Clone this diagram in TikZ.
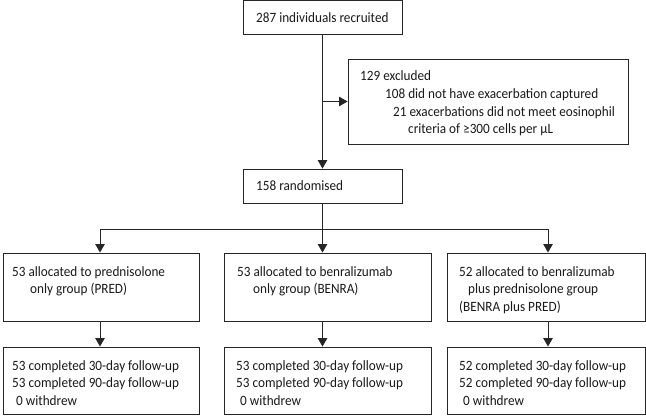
\documentclass[tikz,border=0pt]{standalone}
\usepackage{fontspec}
\setmainfont{Carlito}[FakeStretch=0.93]
\usetikzlibrary{arrows.meta}
\begin{document}
\begin{tikzpicture}[x=1pt,y=-1pt,
  box/.style={draw=black!85, line width=0.9pt, inner sep=0pt, rectangle},
  txt/.style={anchor=north west, inner sep=0pt, align=left, font=\fontsize{14.2}{17.7}\selectfont, text=black!90},
  arr/.style={draw=black!85, line width=0.9pt, -{Triangle[length=8.5pt,width=9.5pt]}},
  ln/.style={draw=black!85, line width=0.9pt}]
\useasboundingbox (0,0) rectangle (646,416);
% boxes
\node[box, minimum width=159pt, minimum height=33.5pt] (rec) at (322.5,17.3) {};
\node[box, minimum width=280pt, minimum height=85pt] (excl) at (488,101.5) {};
\node[box, minimum width=159pt, minimum height=34pt] (rand) at (322.5,186) {};
\node[box, minimum width=196pt, minimum height=68pt] (Aa) at (101,287) {};
\node[box, minimum width=207pt, minimum height=68pt] (Ba) at (327.5,287) {};
\node[box, minimum width=198pt, minimum height=68pt] (Ca) at (546,287) {};
\node[box, minimum width=196pt, minimum height=67pt] (Af) at (101,380.5) {};
\node[box, minimum width=207pt, minimum height=67pt] (Bf) at (327.5,380.5) {};
\node[box, minimum width=198pt, minimum height=67pt] (Cf) at (546,380.5) {};
% texts
\node[txt] (recT) at (256,10.3) {\strut 287 individuals recruited};
\node[txt] (exclT) at (360,68.1) {\strut 129 excluded\\
  \hspace*{25pt}108 did not have exacerbation captured\\
  \hspace*{33pt}21 exacerbations did not meet eosinophil\\
  \hspace*{48pt}criteria of ≥300 cells per μL};
\node[txt] (randT) at (256,178.3) {\strut 158 randomised};
\node[txt] (AaT) at (12,263.6) {\strut 53 allocated to prednisolone\\\hspace*{18pt}only group (PRED)};
\node[txt] (BaT) at (237,263.6) {\strut 53 allocated to benralizumab\\\hspace*{16pt}only group (BENRA)};
\node[txt] (CaT) at (459,263.6) {\strut 52 allocated to benralizumab\\\hspace*{9pt}plus prednisolone group\\(BENRA plus PRED)};
\node[txt] (AfT) at (12,357.6) {\strut 53 completed 30-day follow-up\\53 completed 90-day follow-up\\\hspace*{4pt}0 withdrew};
\node[txt] (BfT) at (236,357.6) {\strut 53 completed 30-day follow-up\\53 completed 90-day follow-up\\\hspace*{4pt}0 withdrew};
\node[txt] (CfT) at (459,357.6) {\strut 52 completed 30-day follow-up\\52 completed 90-day follow-up\\\hspace*{4pt}0 withdrew};
% connectors
\coordinate (j) at (rec.south |- excl.west);
\draw[arr] (rec.south) -- (rand.north);
\draw[arr] (j) -- (excl.west);
\coordinate (br) at (322.5,229);
\coordinate (cA) at (100,229);
\coordinate (cC) at (548,229);
\draw[ln] (rand.south) -- (br);
\draw[ln] (cA) -- (cC);
\draw[arr] (cA) -- (cA |- Aa.north);
\draw[arr] (br) -- (br |- Ba.north);
\draw[arr] (cC) -- (cC |- Ca.north);
\draw[arr] (cA |- Aa.south) -- (cA |- Af.north);
\draw[arr] (br |- Ba.south) -- (br |- Bf.north);
\draw[arr] (cC |- Ca.south) -- (cC |- Cf.north);
\end{tikzpicture}
\end{document}
